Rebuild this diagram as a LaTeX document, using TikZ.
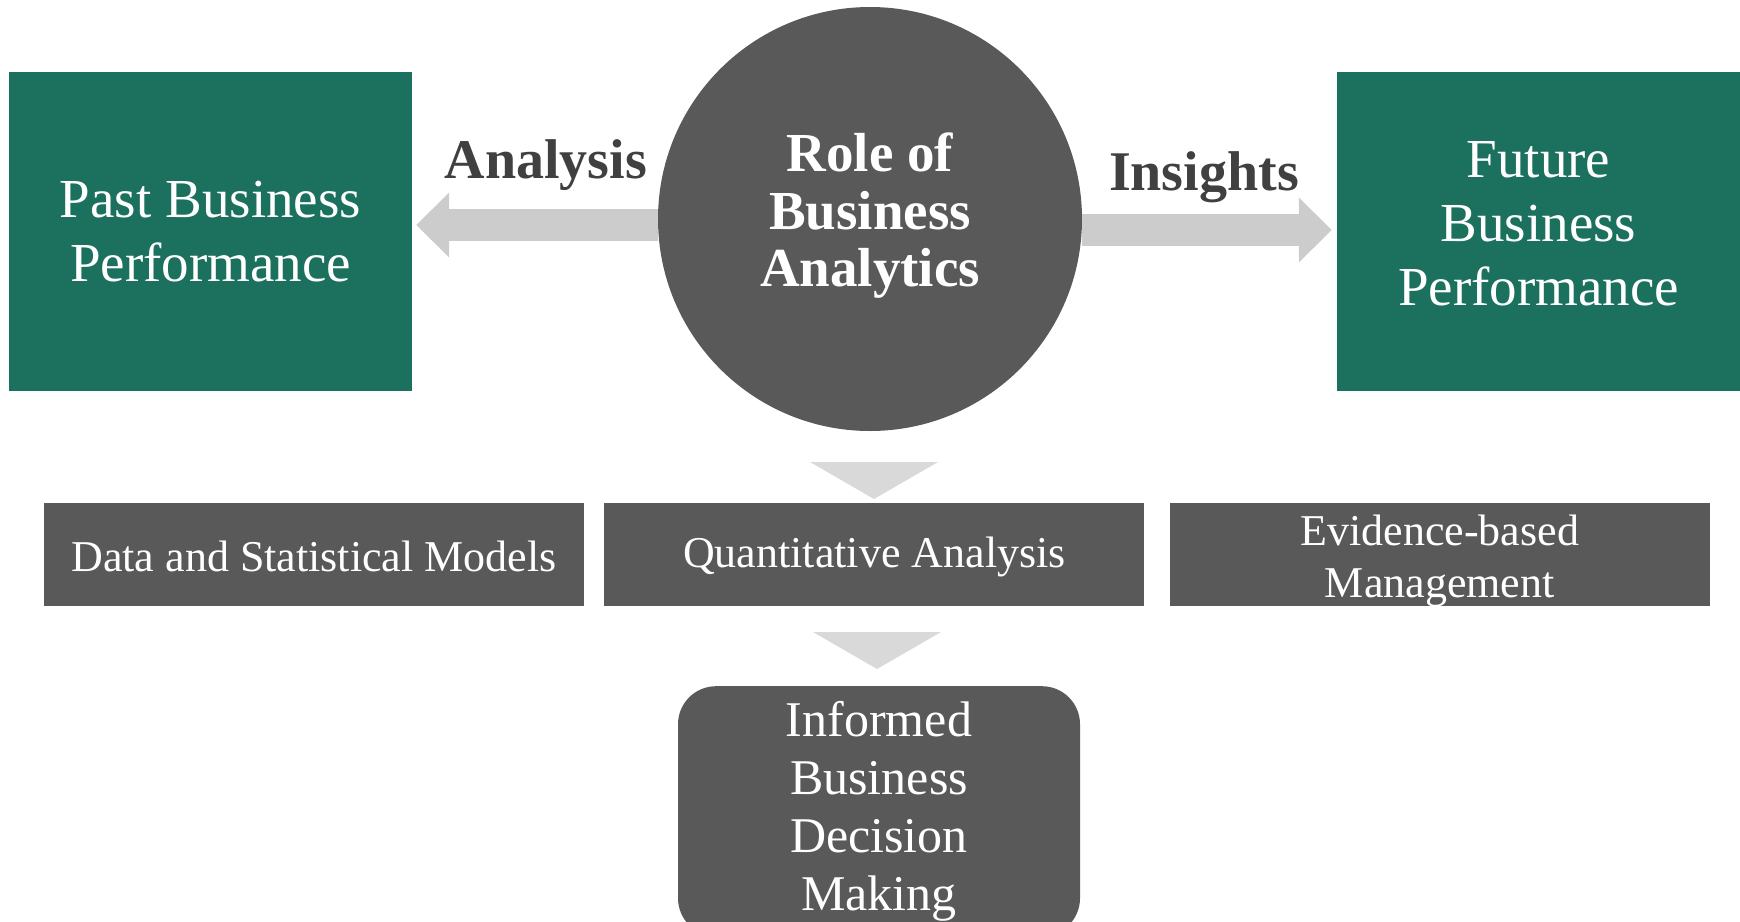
\documentclass[tikz,border=0pt]{standalone}
\usepackage{fontspec}
\setmainfont{Liberation Serif}
\usetikzlibrary{arrows.meta, positioning}
\definecolor{bagreen}{RGB}{27,112,94}
\definecolor{badark}{RGB}{89,89,89}
\definecolor{balight}{RGB}{204,204,204}
\definecolor{batri}{RGB}{217,217,217}
\definecolor{balabel}{RGB}{64,64,64}

\begin{document}
\begin{tikzpicture}[x = 1pt, y = -1pt, node distance = 20pt,
    greenbox/.style = {rectangle, fill = bagreen, text = white, align = center, minimum width = 403pt, minimum height = 319pt, font = \fontsize{55}{64}\selectfont},
    greybox/.style = {rectangle, fill = badark, text = white, align = center, minimum width = 540pt, minimum height = 103pt, inner sep = 0pt, font = \fontsize{44}{52}\selectfont},
    blockarrow/.style = {draw = balight, line width = 32pt, -{Triangle[width = 63pt, length = 33pt]}},
    lbl/.style = {text = balabel, font = \bfseries\fontsize{56}{64}\selectfont}]
    \clip (0,0) rectangle (1740,921);
    \useasboundingbox (0,0) rectangle (1740,921);

    \node[greenbox]                     (past)      at (210.5,231.5)    {Past Business\\Performance};
    \node[greenbox, text depth = 16pt]  (future)    at (1538.5,231.5)   {Future\\Business\\Performance};
    \node[circle, fill = badark, text = white, align = center, minimum size = 424pt,
          font = \bfseries\fontsize{55}{57.5}\selectfont, text depth = 18pt]
                                        (role)      at (870,219)        {Role of\\Business\\Analytics};

    \draw[blockarrow]   ([yshift = -6pt]role.west)      --  ([xshift = 4pt, yshift = 6.5pt]past.east);
    \draw[blockarrow]   ([yshift = -11pt]role.east)     --  ([xshift = -5pt, yshift = 1.5pt]future.west);
    \node[lbl]                          (analysis)  at (546,165)        {Analysis};
    \node[lbl]                          (insights)  at (1204,177)       {Insights};

    \node[greybox, text height = 34pt]  (data)      at (314,554.5)      {Data and Statistical Models};
    \node[greybox, text height = 36pt]  (quant)     [right = 20pt of data]  {Quantitative Analysis};
    \node[greybox, text height = 90pt, text depth = 5pt]
                                        (evidence)  [right = 25pt of quant] {Evidence-based\\Management};

    \fill[batri] (810,462) -- (938,462) -- (874,499) -- cycle;
    \fill[batri] (813,632) -- (941,632) -- (877,669) -- cycle;

    \node[rectangle, rounded corners = 38pt, fill = badark, text = white, align = center,
          minimum width = 402pt, minimum height = 250pt, anchor = north,
          font = \fontsize{50}{58}\selectfont]
                                        (decision)  at (879,686)        {Informed\\Business\\Decision\\Making};
\end{tikzpicture}
\end{document}
